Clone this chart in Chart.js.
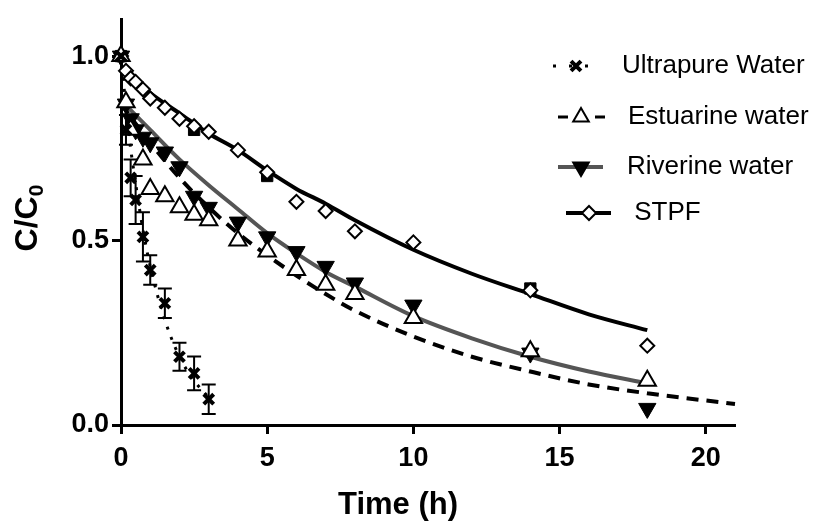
<!DOCTYPE html>
<html>
<head>
<meta charset="utf-8">
<script src="https://cdn.jsdelivr.net/npm/chart.js"></script>
<style>
  body { margin: 0; background: #fff; }
</style>
</head>
<body>
<canvas id="myChart" width="814" height="525"></canvas>
<script>
// values (time in h, C/C0)
const ultraTime = [0, 0.17, 0.33, 0.5, 0.75, 1, 1.5, 2, 2.5, 3];
const ultraC    = [1.0, 0.80, 0.67, 0.61, 0.51, 0.42, 0.33, 0.185, 0.14, 0.07];
const ultraErr  = [0, 0.04, 0.05, 0.065, 0.067, 0.04, 0.04, 0.038, 0.046, 0.04];

const estTime = [0, 0.17, 0.33, 0.75, 1, 1.5, 2, 2.5, 3, 4, 5, 6, 7, 8, 10, 14, 18];
const estC    = [1.0, 0.875, 0.80, 0.72, 0.64, 0.62, 0.59, 0.57, 0.555, 0.50, 0.47, 0.42, 0.38, 0.355, 0.29, 0.20, 0.12];

const rivTime = [0, 0.17, 0.33, 0.5, 0.75, 1, 1.5, 2, 2.5, 3, 4, 5, 6, 7, 8, 10, 14, 18];
const rivC    = [1.0, 0.87, 0.83, 0.80, 0.78, 0.765, 0.74, 0.70, 0.62, 0.59, 0.55, 0.51, 0.47, 0.43, 0.385, 0.325, 0.195, 0.045];

const stpfTime = [0, 0.17, 0.33, 0.5, 0.75, 1, 1.5, 2, 2.5, 3, 4, 5, 6, 7, 8, 10, 14, 18];
const stpfC    = [1.0, 0.96, 0.94, 0.93, 0.91, 0.885, 0.86, 0.83, 0.81, 0.795, 0.745, 0.685, 0.605, 0.58, 0.525, 0.495, 0.365, 0.215];

// filled squares (unlabelled replicate)
const sqTime = [0, 2.5, 5, 14];
const sqC    = [1.0, 0.80, 0.675, 0.37];

// fitted curves
const ultraFitT = [0, 0.25, 0.5, 0.75, 1, 1.5, 2, 2.5, 3];
const ultraFitC = [1.0, 0.80, 0.655, 0.53, 0.43, 0.285, 0.185, 0.12, 0.075];
const estFitT = [0, 1, 2, 3, 4, 5, 6, 7, 8, 10, 12, 14, 16, 18, 21];
const estFitC = [0.87, 0.765, 0.67, 0.59, 0.52, 0.46, 0.405, 0.355, 0.31, 0.24, 0.185, 0.145, 0.11, 0.086, 0.057];
const rivFitT = [0, 1, 2, 3, 4, 5, 6, 7, 8, 10, 12, 14, 16, 18];
const rivFitC = [0.88, 0.80, 0.72, 0.65, 0.585, 0.52, 0.465, 0.415, 0.375, 0.295, 0.235, 0.185, 0.145, 0.113];
const stpfFitT = [0, 1, 2, 3, 4, 5, 6, 7, 8, 10, 12, 14, 16, 18];
const stpfFitC = [0.97, 0.90, 0.845, 0.79, 0.745, 0.69, 0.64, 0.60, 0.555, 0.475, 0.41, 0.355, 0.30, 0.257];

const xTicks = [0, 5, 10, 15, 20];
const yTicks = [0, 0.5, 1.0];
const legendLabels = ['Ultrapure Water', 'Estuarine water', 'Riverine water', ' STPF'];

function pts(xs, ys) {
    return xs.map((x, i) => ({ x: x, y: ys[i] }));
}

const FONT = '"Liberation Sans", Arial, sans-serif';

// error bars for the ultrapure series
const errorBars = {
    id: 'errorBars',
    afterDatasetsDraw(chart) {
        const ctx = chart.ctx, xs = chart.scales.x, ys = chart.scales.y;
        ctx.save();
        ctx.strokeStyle = '#000';
        ctx.lineWidth = 2;
        ultraTime.forEach((t, i) => {
            if (!ultraErr[i]) return;
            const px = xs.getPixelForValue(t);
            const top = ys.getPixelForValue(ultraC[i] + ultraErr[i]);
            const bot = ys.getPixelForValue(ultraC[i] - ultraErr[i]);
            ctx.beginPath();
            ctx.moveTo(px, top); ctx.lineTo(px, bot);
            ctx.moveTo(px - 7, top); ctx.lineTo(px + 7, top);
            ctx.moveTo(px - 7, bot); ctx.lineTo(px + 7, bot);
            ctx.stroke();
        });
        ctx.restore();
    }
};

// legend and axis titles drawn by hand
const decor = {
    id: 'decor',
    afterDraw(chart) {
        const ctx = chart.ctx;
        const items = [
            { y: 66, x1: 553, x2: 596, mx: 576, tx: 622, color: '#000', dash: [3, 13], lw: 3,
              pt: { pointStyle: 'crossRot', radius: 7, borderWidth: 4, rotation: 0 }, fill: '#000' },
            { y: 117, x1: 558, x2: 605, mx: 581, tx: 628, color: '#000', dash: [10, 14, 3, 10], lw: 3,
              pt: { pointStyle: 'triangle', radius: 9, borderWidth: 2, rotation: 0 }, fill: '#fff' },
            { y: 167, x1: 558, x2: 603, mx: 581, tx: 627, color: '#555', dash: [], lw: 4,
              pt: { pointStyle: 'triangle', radius: 9, borderWidth: 2, rotation: 180 }, fill: '#000' },
            { y: 213, x1: 566, x2: 611, mx: 589, tx: 627, color: '#000', dash: [], lw: 4,
              pt: { pointStyle: 'rectRot', radius: 7, borderWidth: 2, rotation: 0 }, fill: '#fff' }
        ];
        ctx.save();
        items.forEach((it, i) => {
            ctx.setLineDash(it.dash);
            ctx.strokeStyle = it.color;
            ctx.lineWidth = it.lw;
            ctx.beginPath();
            ctx.moveTo(it.x1, it.y);
            ctx.lineTo(it.x2, it.y);
            ctx.stroke();
            ctx.setLineDash([]);
            ctx.strokeStyle = '#000';
            ctx.fillStyle = it.fill;
            ctx.lineWidth = it.pt.borderWidth;
            Chart.helpers.drawPoint(ctx, it.pt, it.mx, it.y);
            ctx.fillStyle = '#000';
            ctx.font = '26px ' + FONT;
            ctx.textBaseline = 'middle';
            ctx.textAlign = 'left';
            ctx.fillText(legendLabels[i], it.tx, it.y);
        });

        // x title
        ctx.font = 'bold 31px ' + FONT;
        ctx.textAlign = 'center';
        ctx.textBaseline = 'middle';
        ctx.fillText('Time (h)', 398, 505);

        // y title with subscript
        ctx.translate(28, 218);
        ctx.rotate(-Math.PI / 2);
        ctx.font = 'bold 32px ' + FONT;
        const w = ctx.measureText('C/C').width;
        ctx.font = 'bold 21px ' + FONT;
        const sw = ctx.measureText('0').width;
        const start = -(w + sw) / 2;
        ctx.textAlign = 'left';
        ctx.font = 'bold 32px ' + FONT;
        ctx.fillText('C/C', start, 0);
        ctx.font = 'bold 21px ' + FONT;
        ctx.fillText('0', start + w, 9);
        ctx.restore();
    }
};

var ctx = document.getElementById('myChart').getContext('2d');
var myChart = new Chart(ctx, {
    type: 'scatter',
    data: {
        datasets: [
            {
                label: 'Ultrapure Water',
                data: pts(ultraTime, ultraC),
                pointStyle: 'crossRot',
                pointRadius: 7,
                pointBorderWidth: 4,
                borderColor: '#000',
                backgroundColor: '#000',
                order: 1
            },
            {
                label: 'Estuarine water',
                data: pts(estTime, estC),
                pointStyle: 'triangle',
                pointRadius: 10,
                pointBorderWidth: 2,
                borderColor: '#000',
                backgroundColor: '#fff',
                order: 2
            },
            {
                label: 'Riverine water',
                data: pts(rivTime, rivC),
                pointStyle: 'triangle',
                rotation: 180,
                pointRadius: 10,
                pointBorderWidth: 1,
                borderColor: '#000',
                backgroundColor: '#000',
                order: 3
            },
            {
                label: 'STPF',
                data: pts(stpfTime, stpfC),
                pointStyle: 'rectRot',
                pointRadius: 7,
                pointBorderWidth: 2,
                borderColor: '#000',
                backgroundColor: '#fff',
                order: 4
            },
            {
                label: 'squares',
                data: pts(sqTime, sqC),
                pointStyle: 'rect',
                pointRadius: 8,
                pointBorderWidth: 1,
                borderColor: '#000',
                backgroundColor: '#000',
                order: 5
            },
            {
                label: 'Ultrapure fit',
                data: pts(ultraFitT, ultraFitC),
                showLine: true,
                pointRadius: 0,
                borderColor: '#000',
                borderWidth: 3,
                borderDash: [3, 8],
                cubicInterpolationMode: 'monotone',
                order: 6
            },
            {
                label: 'Estuarine fit',
                data: pts(estFitT, estFitC),
                showLine: true,
                pointRadius: 0,
                borderColor: '#000',
                borderWidth: 4,
                borderDash: [12, 8],
                cubicInterpolationMode: 'monotone',
                order: 7
            },
            {
                label: 'Riverine fit',
                data: pts(rivFitT, rivFitC),
                showLine: true,
                pointRadius: 0,
                borderColor: '#555',
                borderWidth: 4,
                cubicInterpolationMode: 'monotone',
                order: 8
            },
            {
                label: 'STPF fit',
                data: pts(stpfFitT, stpfFitC),
                showLine: true,
                pointRadius: 0,
                borderColor: '#000',
                borderWidth: 4,
                cubicInterpolationMode: 'monotone',
                order: 9
            }
        ]
    },
    options: {
        responsive: false,
        animation: false,
        clip: false,
        layout: { padding: { top: 16, right: 79, left: 0, bottom: 0 } },
        plugins: {
            legend: { display: false },
            tooltip: { enabled: false }
        },
        scales: {
            x: {
                type: 'linear',
                min: 0,
                max: 21,
                afterBuildTicks: function(scale) {
                    scale.ticks = xTicks.map(v => ({ value: v }));
                },
                afterFit: function(scale) { scale.height = 100; },
                grid: { drawOnChartArea: false, tickLength: 9, tickWidth: 3, tickColor: '#000' },
                border: { color: '#000', width: 3 },
                ticks: {
                    color: '#000',
                    padding: 8,
                    font: { family: FONT, size: 27, weight: 'bold' }
                }
            },
            y: {
                min: 0,
                max: 1.1,
                afterBuildTicks: function(scale) {
                    scale.ticks = yTicks.map(v => ({ value: v }));
                },
                afterFit: function(scale) { scale.width = 121; },
                grid: { drawOnChartArea: false, tickLength: 9, tickWidth: 3, tickColor: '#000' },
                border: { color: '#000', width: 3 },
                ticks: {
                    color: '#000',
                    padding: 3,
                    font: { family: FONT, size: 27, weight: 'bold' },
                    callback: function(v) { return v.toFixed(1); }
                }
            }
        }
    },
    plugins: [errorBars, decor]
});
</script>
</body>
</html>
